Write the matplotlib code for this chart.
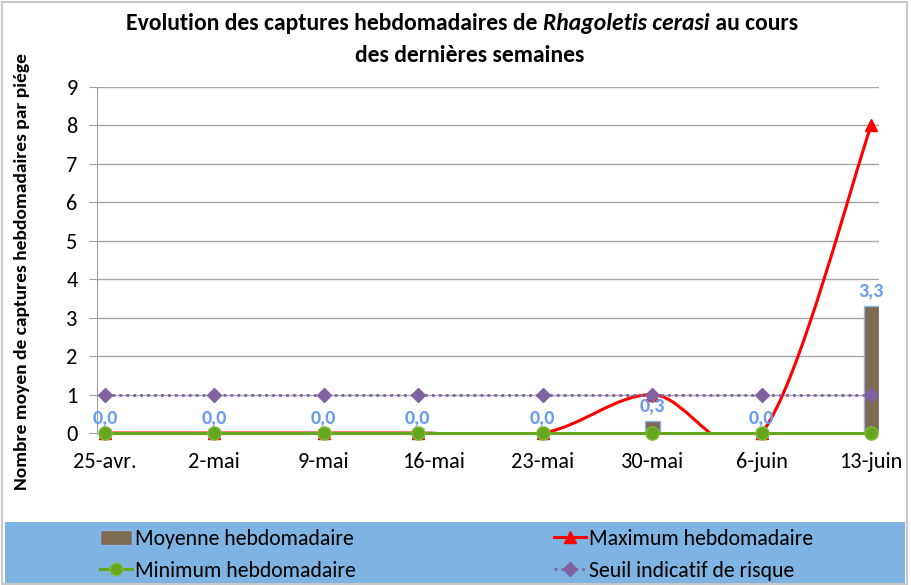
import matplotlib
matplotlib.use("Agg")
import matplotlib.pyplot as plt
from matplotlib.path import Path
from matplotlib.patches import PathPatch, Rectangle
from matplotlib.lines import Line2D
from matplotlib.offsetbox import TextArea, HPacker, AnchoredOffsetbox
import numpy as np

plt.rcParams['font.family'] = ['Carlito', 'Open Sans', 'DejaVu Sans']

# day offsets from 25 April
tick_days = [0, 7, 14, 21, 28, 35, 42, 49]
tick_labels = ["25-avr.", "2-mai", "9-mai", "16-mai", "23-mai", "30-mai", "6-juin", "13-juin"]
sample_days = [0, 7, 14, 20, 28, 35, 42, 49]

moyenne = [0.0, 0.0, 0.0, 0.0, 0.0, 0.3, 0.0, 3.3]
maximum = [0, 0, 0, 0, 0, 1, 0, 8]
minimum = [0, 0, 0, 0, 0, 0, 0, 0]
seuil = [1, 1, 1, 1, 1, 1, 1, 1]

brown = "#7f6a52"
red = "#ff0000"
green = "#66a61e"
purple = "#8064a2"
label_blue = "#6a9cf0"


def smooth_path(x, y):
    # Excel-like smoothed line: cubic bezier segments (Catmull-Rom control points)
    pts = np.column_stack([x, y]).astype(float)
    verts = [pts[0]]
    codes = [Path.MOVETO]
    n = len(pts)
    for i in range(n - 1):
        p0 = pts[i - 1] if i > 0 else pts[i]
        p1 = pts[i]
        p2 = pts[i + 1]
        p3 = pts[i + 2] if i + 2 < n else pts[i + 1]
        c1 = p1 + (p2 - p0) / 6.0
        c2 = p2 - (p3 - p1) / 6.0
        verts += [c1, c2, p2]
        codes += [Path.CURVE4] * 3
    return Path(verts, codes)


fig = plt.figure(figsize=(9.11, 5.85), dpi=100)
ax = fig.add_axes([97 / 911, 1 - 433 / 585, 782 / 911, 346 / 585])

bars = ax.bar(sample_days, moyenne, width=0.95, color=brown, edgecolor="#8eb4f0",
              linewidth=1, zorder=2)
for d, v in zip(sample_days, moyenne):
    ax.annotate(f"{v:.1f}".replace(".", ","), (d, v), xytext=(0, 5), textcoords="offset points",
                ha="center", va="bottom", color=label_blue, fontsize=14.5, fontweight="bold", zorder=6)

ax.add_patch(PathPatch(smooth_path(sample_days, maximum), facecolor="none", edgecolor=red,
                       linewidth=2.2, zorder=3))
ax.plot(sample_days, maximum, linestyle="none", marker="^", markersize=9, color=red, zorder=3,
        clip_on=False)

ax.plot(sample_days, minimum, color=green, linewidth=2.2, marker="o", markersize=9.5,
        markerfacecolor=green, markeredgecolor="#7cbc3a", zorder=4, clip_on=False)

ax.plot(sample_days, seuil, color=purple, linewidth=2, linestyle=(0, (1, 1.5)), marker="D",
        markersize=7.5, markerfacecolor=purple, markeredgecolor=purple, zorder=5, clip_on=False)

ax.set_xlim(-0.5, 49.5)
ax.set_ylim(0, 9)
ax.set_yticks(range(10))
ax.set_xticks(tick_days)
ax.set_xticklabels(tick_labels)
ax.tick_params(axis="y", length=6, color="#a0a0a0", labelsize=16, pad=8)
ax.tick_params(axis="x", length=0, labelsize=16, pad=14)
ax.grid(True, axis="y", color="#a6a6a6", linewidth=1)
ax.set_axisbelow(True)
for s in ["top", "right", "bottom"]:
    ax.spines[s].set_visible(False)
ax.spines["left"].set_color("#a0a0a0")

fig.text(22 / 911, 1 - 272 / 585, "Nombre moyen de captures hebdomadaires par piége",
         rotation=90, ha="center", va="center", fontsize=14, fontweight="bold")

# title with italic species name
parts = [TextArea("Evolution des captures hebdomadaires de ", textprops=dict(fontsize=17, fontweight="bold")),
         TextArea("Rhagoletis cerasi", textprops=dict(fontsize=17, fontweight="bold", style="italic")),
         TextArea(" au cours", textprops=dict(fontsize=17, fontweight="bold"))]
line1 = HPacker(children=parts, pad=0, sep=0, align="baseline")
fig.add_artist(AnchoredOffsetbox(loc="center", child=line1, frameon=False, pad=0, borderpad=0,
                                 bbox_to_anchor=(462 / 911, 1 - 23 / 585), bbox_transform=fig.transFigure))
fig.text(470 / 911, 1 - 55 / 585, "des dernières semaines", ha="center", va="center",
         fontsize=17, fontweight="bold")

# legend band
fig.add_artist(Rectangle((5 / 911, 0), 900 / 911, 63 / 585, transform=fig.transFigure,
                         facecolor="#7eb3e2", edgecolor="none", zorder=0))
handles = [Rectangle((0, 0), 1, 1, facecolor=brown, edgecolor="#8eb4f0"),
           Line2D([], [], color=green, linewidth=2.2, marker="o", markersize=9, markeredgecolor="#7cbc3a"),
           Line2D([], [], color=red, linewidth=2.2, marker="^", markersize=9),
           Line2D([], [], color=purple, linewidth=2, linestyle=(0, (1, 1.5)), marker="D", markersize=7)]
names = ["Moyenne hebdomadaire", "Minimum hebdomadaire", "Maximum hebdomadaire", "Seuil indicatif de risque"]
fig.legend(handles, names, ncol=2, loc="center left", bbox_to_anchor=(100 / 911, 1 - 555 / 585),
           frameon=False, fontsize=15.7, handlelength=1.45, handletextpad=0.15, columnspacing=9.1,
           labelspacing=0.55, borderpad=0, borderaxespad=0)

fig.add_artist(Rectangle((0.002, 0.002), 0.994, 0.994, transform=fig.transFigure,
                         facecolor="none", edgecolor="#c8c8c8", linewidth=1.5))

fig.savefig("out.png", dpi=100)
